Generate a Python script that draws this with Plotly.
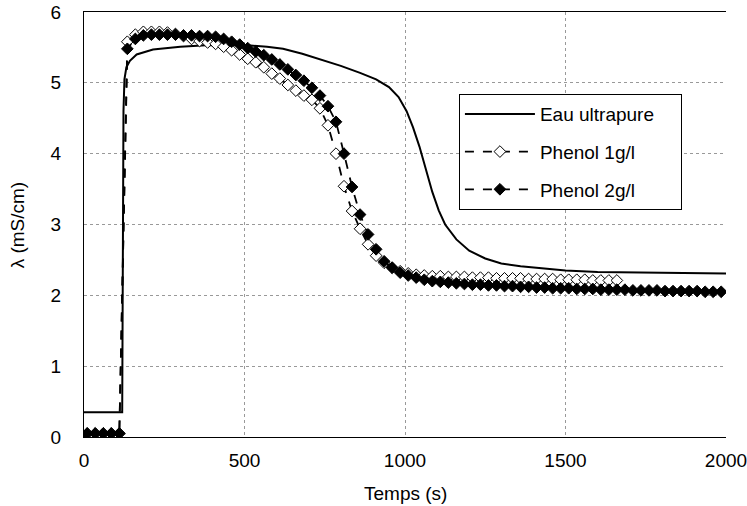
import plotly.graph_objects as go

# Eau ultrapure (solid line)
eau_t = [0, 119, 121, 123, 126, 132, 143, 164, 215, 300, 380, 450, 510, 570, 620, 680, 740, 800,
         860, 910, 950, 980, 1005, 1025, 1045, 1065, 1085, 1105, 1125, 1160, 1200, 1250,
         1300, 1360, 1420, 1500, 1600, 1760, 2000]
eau_v = [0.35, 0.35, 2.5, 4.6, 5.05, 5.22, 5.31, 5.40, 5.47, 5.51, 5.53, 5.53, 5.53, 5.51, 5.48, 5.41, 5.33, 5.24,
         5.14, 5.05, 4.94, 4.80, 4.60, 4.37, 4.10, 3.78, 3.46, 3.20, 3.00, 2.79, 2.63, 2.52,
         2.45, 2.41, 2.38, 2.35, 2.33, 2.32, 2.31]

# Phenol 1g/l (open diamonds), sampled every 25 s from 10 s
p1_v = [0.05, 0.05, 0.05, 0.05, 0.05,
        5.58, 5.68, 5.72, 5.72, 5.72, 5.71, 5.69, 5.66, 5.62, 5.59, 5.57, 5.55,
        5.51, 5.46, 5.40, 5.34, 5.29, 5.22, 5.13, 5.06, 4.97, 4.89, 4.82, 4.76,
        4.64, 4.40, 4.00, 3.54, 3.19, 2.94, 2.72, 2.56, 2.46, 2.39, 2.34, 2.31,
        2.29, 2.28, 2.27,
        2.27, 2.26, 2.26, 2.26, 2.25, 2.25, 2.25, 2.24, 2.24, 2.24, 2.24, 2.23,
        2.23, 2.23, 2.23, 2.22, 2.22, 2.22, 2.22, 2.21, 2.21, 2.21, 2.21]
p1_t = [10 + 25 * i for i in range(len(p1_v))]

# Phenol 2g/l (filled diamonds)
p2_v = [0.05, 0.05, 0.05, 0.05, 0.05,
        5.48, 5.62, 5.67, 5.68, 5.68, 5.68, 5.68, 5.67, 5.67, 5.66, 5.66, 5.65,
        5.62, 5.58, 5.54, 5.49, 5.44, 5.39, 5.33, 5.26, 5.19, 5.11, 5.03, 4.93,
        4.82, 4.67, 4.45, 4.00, 3.53, 3.14, 2.86, 2.65, 2.48, 2.39, 2.32, 2.28,
        2.25, 2.22, 2.20, 2.19, 2.18, 2.17, 2.16, 2.15, 2.15, 2.14, 2.14, 2.13,
        2.13, 2.12,
        2.12, 2.11, 2.11, 2.10, 2.10, 2.10, 2.09, 2.09, 2.09, 2.08, 2.08, 2.08,
        2.08, 2.07, 2.07, 2.07, 2.07, 2.06, 2.06, 2.06, 2.06, 2.06, 2.05, 2.05, 2.05]
p2_t = [10 + 25 * i for i in range(len(p2_v))]

x_ticks = [0, 500, 1000, 1500, 2000]
y_ticks = [0, 1, 2, 3, 4, 5, 6]

FS = 19
PAD = "\u00a0" * 4
font = dict(family="Liberation Sans, Arial, sans-serif", size=FS, color="black")

fig = go.Figure()
fig.add_trace(go.Scatter(x=eau_t, y=eau_v, mode="lines", name="Eau ultrapure" + PAD,
                         legendgroup="a",
                         line=dict(color="black", width=2)))
fig.add_trace(go.Scatter(x=p1_t, y=p1_v, mode="lines+markers", name="Phenol 1g/l",
                         legendgroup="b",
                         line=dict(color="black", width=1.8, dash="dash"),
                         marker=dict(symbol="diamond", size=9, color="white",
                                     line=dict(color="black", width=1))))
fig.add_trace(go.Scatter(x=p2_t, y=p2_v, mode="lines+markers", name="Phenol 2g/l",
                         legendgroup="c",
                         line=dict(color="black", width=1.8, dash="dash"),
                         marker=dict(symbol="diamond", size=9, color="black",
                                     line=dict(color="black", width=1))))

fig.update_layout(
    width=747, height=506,
    margin=dict(l=84, r=21, t=12, b=69),
    paper_bgcolor="white", plot_bgcolor="white",
    font=font,
    showlegend=True,
    legend=dict(x=0.584, y=0.807, xanchor="left", yanchor="top",
                bordercolor="black", borderwidth=1, bgcolor="white",
                font=dict(size=FS), itemwidth=70, tracegroupgap=10),
    annotations=[
        dict(text="Temps (s)", x=0.5, y=-0.134, xref="paper", yref="paper",
             xanchor="center", yanchor="middle", showarrow=False, font=dict(size=FS)),
        dict(text="λ (mS/cm)", x=-0.103, y=0.5, xref="paper", yref="paper", textangle=-90,
             xanchor="center", yanchor="middle", showarrow=False, font=dict(size=FS)),
    ],
)
fig.update_xaxes(range=[0, 2000], tickvals=x_ticks, ticks="", showline=True, mirror=True,
                 linecolor="black", linewidth=1, showgrid=True, gridcolor="#999999",
                 griddash="dot", gridwidth=1, zeroline=False, automargin=False,
                 ticklabelstandoff=6, ticklabeloverflow="allow")
fig.update_yaxes(range=[0, 6], tickvals=y_ticks, ticks="", showline=True, mirror=False,
                 linecolor="black", linewidth=1, showgrid=True, gridcolor="#999999",
                 griddash="dot", gridwidth=1, zeroline=False, automargin=False,
                 ticklabelstandoff=18, ticklabeloverflow="allow")

fig.write_html("out.html", config={"displayModeBar": False},
               post_script="document.body.style.margin='0px';")
